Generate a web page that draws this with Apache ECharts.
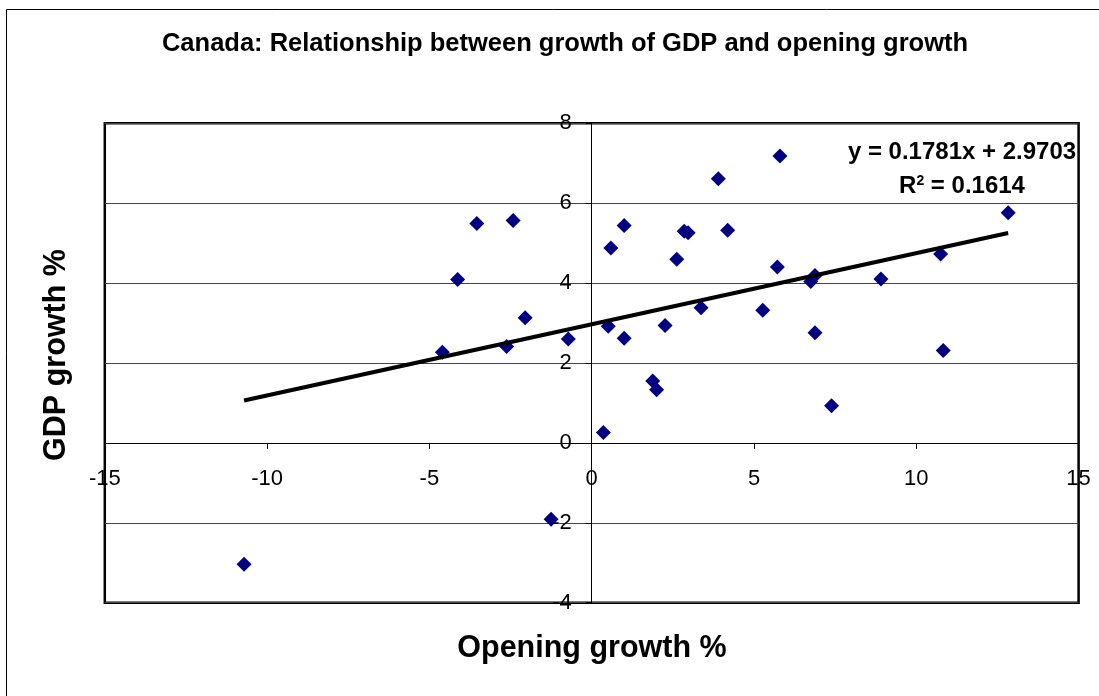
<!DOCTYPE html>
<html>
<head>
<meta charset="utf-8">
<title>Canada: GDP growth vs opening growth</title>
<script src="https://cdn.jsdelivr.net/npm/echarts@6/dist/echarts.min.js"></script>
<style>
  html, body { margin: 0; padding: 0; background: #fff; }
  #chart { width: 1099px; height: 696px; }
</style>
</head>
<body>
<div id="chart"></div>
<script>
// Opening growth (%) and GDP growth (%) per year, paired by index
const openingGrowth = [-10.71, -4.60, -4.13, -3.54, -2.62, -2.42, -2.05, -1.25, -0.72, 0.36,
  0.51, 0.59, 1.00, 1.00, 1.88, 2.00, 2.26, 2.62, 2.85, 2.97,
  3.37, 3.90, 4.19, 5.27, 5.72, 5.80, 6.75, 6.88, 6.88, 7.39,
  8.91, 10.75, 10.83, 12.83];
const gdpGrowth = [-3.04, 2.27, 4.09, 5.49, 2.41, 5.57, 3.13, -1.91, 2.60, 0.26,
  2.92, 4.88, 5.44, 2.62, 1.55, 1.33, 2.94, 4.60, 5.30, 5.26,
  3.38, 6.61, 5.32, 3.32, 4.40, 7.18, 4.04, 4.19, 2.76, 0.93,
  4.10, 4.73, 2.31, 5.76];

// Linear trend line coefficients
const trendSlope = 0.1781;
const trendIntercept = 2.9703;
const rSquared = 0.1614;

// Tick values and their labels (labels sit along the zero lines)
const xTickValues = [-15, -10, -5, 0, 5, 10, 15];
const xTickLabels = ['-15', '-10', '-5', '0', '5', '10', '15'];
const yTickValues = [-4, -2, 0, 2, 4, 6, 8];
const yTickLabels = ['-4', '-2', '0', '2', '4', '6', '8'];

const FONT = '"Liberation Sans", Arial, Helvetica, sans-serif';

const points = openingGrowth.map((x, i) => [x, gdpGrowth[i]]);
const xLo = Math.min(...openingGrowth);
const xHi = Math.max(...openingGrowth);
const trendLine = [
  [xLo, trendSlope * xLo + trendIntercept],
  [xHi, trendSlope * xHi + trendIntercept]
];

const chart = echarts.init(document.getElementById('chart'), null, { renderer: 'canvas' });

const tickLabelStyle = { color: '#000', fontSize: 22, fontFamily: FONT, opacity: 1 };

chart.setOption({
  backgroundColor: '#ffffff',
  animation: false,
  textStyle: { fontFamily: FONT },
  grid: {
    left: 104.8, top: 123.3, width: 973.8, height: 479.4,
    show: true, borderColor: '#000', borderWidth: 2.5, backgroundColor: 'transparent'
  },
  xAxis: {
    type: 'value',
    min: xTickValues[0], max: xTickValues[xTickValues.length - 1], interval: 5,
    axisLine: { show: true, onZero: true, lineStyle: { color: '#000', width: 1 } },
    axisTick: { show: true, inside: false, length: 6, lineStyle: { color: '#000', width: 1 } },
    axisLabel: { show: false },
    splitLine: { show: false }
  },
  yAxis: {
    type: 'value',
    min: yTickValues[0], max: yTickValues[yTickValues.length - 1], interval: 2,
    axisLine: { show: true, onZero: true, lineStyle: { color: '#000', width: 1 } },
    axisTick: { show: true, inside: false, length: 6, lineStyle: { color: '#000', width: 1 } },
    axisLabel: { show: false },
    splitLine: { show: true, lineStyle: { color: '#444', width: 1 } }
  },
  series: [
    {
      // x tick labels below the y = 0 line
      type: 'scatter',
      data: xTickValues.map(v => [v, 0]),
      symbolSize: 0,
      silent: true,
      z: 1,
      itemStyle: { opacity: 1, color: '#000' },
      label: {
        show: true, position: 'bottom', distance: 25,
        formatter: p => xTickLabels[p.dataIndex],
        ...tickLabelStyle
      }
    },
    {
      // y tick labels left of the x = 0 line
      type: 'scatter',
      data: yTickValues.map(v => [0, v]),
      symbolSize: 0,
      silent: true,
      z: 1,
      itemStyle: { opacity: 1, color: '#000' },
      label: {
        show: true, position: 'left', distance: 20,
        formatter: p => yTickLabels[p.dataIndex],
        ...tickLabelStyle
      }
    },
    {
      type: 'scatter',
      data: points,
      symbol: 'diamond',
      symbolSize: 15,
      itemStyle: { color: '#000080', opacity: 1 },
      z: 3
    },
    {
      type: 'line',
      data: trendLine,
      symbol: 'none',
      lineStyle: { color: '#000', width: 4 },
      z: 4,
      silent: true
    }
  ],
  graphic: [
    {
      type: 'rect',
      shape: { x: 6.5, y: 9.5, width: 1200, height: 800 },
      style: { fill: 'none', stroke: '#000', lineWidth: 1 },
      z: 0, silent: true
    },
    {
      type: 'text',
      x: 565, y: 44,
      style: {
        text: 'Canada: Relationship between growth of GDP and opening growth',
        font: 'bold 25.5px ' + FONT, fill: '#000', align: 'center', verticalAlign: 'middle'
      }
    },
    {
      type: 'text',
      x: 592, y: 649,
      style: {
        text: 'Opening growth %',
        font: 'bold 30.5px ' + FONT, fill: '#000', align: 'center', verticalAlign: 'middle'
      }
    },
    {
      type: 'text',
      x: 57, y: 355,
      rotation: Math.PI / 2,
      style: {
        text: 'GDP growth %',
        font: 'bold 30.5px ' + FONT, fill: '#000', align: 'center', verticalAlign: 'middle'
      }
    },
    {
      type: 'text',
      x: 962, y: 152,
      style: {
        text: 'y = ' + trendSlope.toFixed(4) + 'x + ' + trendIntercept.toFixed(4),
        font: 'bold 24px ' + FONT, fill: '#000', align: 'center', verticalAlign: 'middle'
      }
    },
    {
      type: 'text',
      x: 962, y: 186,
      style: {
        text: '{a|R}{s|2}{a| = ' + rSquared.toFixed(4) + '}',
        align: 'center', verticalAlign: 'middle',
        rich: {
          a: { font: 'bold 24px ' + FONT, fill: '#000', lineHeight: 24 },
          s: { font: 'bold 14px ' + FONT, fill: '#000', verticalAlign: 'top', lineHeight: 24 }
        }
      }
    }
  ]
});
</script>
</body>
</html>
